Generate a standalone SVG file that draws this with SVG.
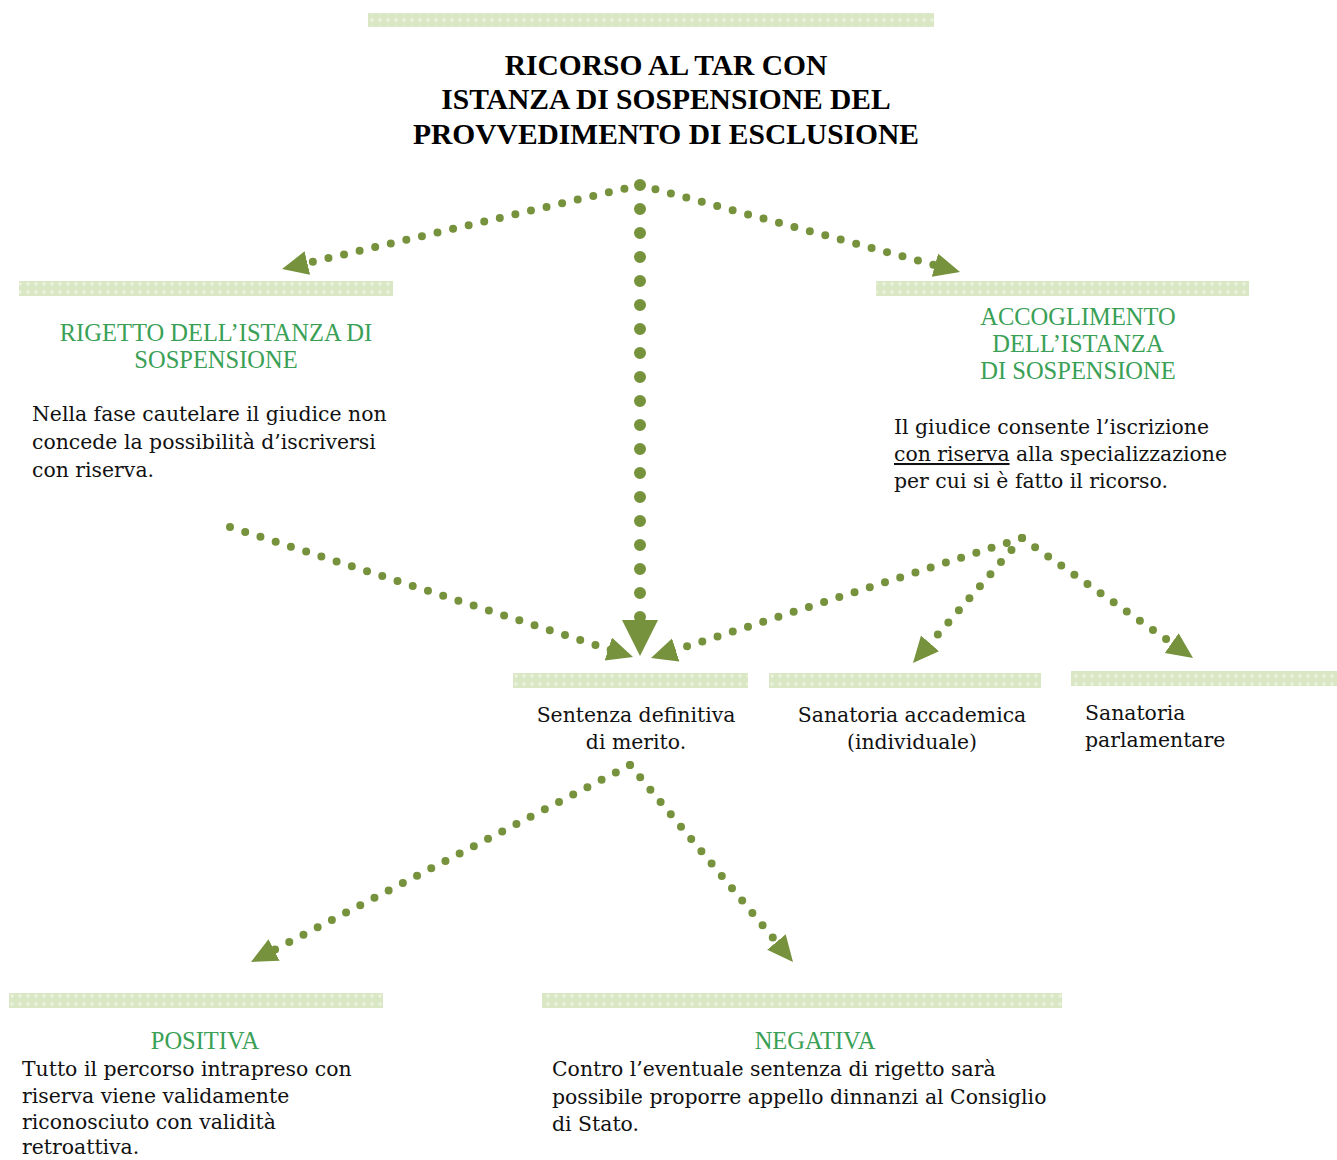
<svg xmlns="http://www.w3.org/2000/svg" width="1337" height="1160" viewBox="0 0 1337 1160">
<style>
.title{font-family:"Liberation Serif",serif;font-weight:bold;font-size:29.5px;fill:#000;text-anchor:middle}
.head{font-family:"Liberation Serif",serif;font-size:24.5px;fill:#3aa055;text-anchor:middle}
.body{font-family:"DejaVu Serif",serif;font-size:20.4px;fill:#111}
.mid{text-anchor:middle}
.bar{fill:url(#hatch)}
.conn{fill:none;stroke:#76923c;stroke-linecap:round;stroke-width:8;stroke-dasharray:0 16}
.big{stroke-width:12;stroke-dasharray:0 24}
</style>
<defs>
<pattern id="hatch" width="8" height="8" patternUnits="userSpaceOnUse">
<rect width="8" height="8" fill="#d9e7c4"/>
<path d="M4 1 L5 4 L4 7 L3 4 Z M1 4 L4 3 L7 4 L4 5 Z" fill="#eef5e4"/>
</pattern>
<marker id="ah" markerUnits="userSpaceOnUse" markerWidth="30" markerHeight="26" refX="10" refY="12" orient="auto">
<path d="M0 0 L26 12 L0 24 Z" fill="#76923c"/>
</marker>
<marker id="ahb" markerUnits="userSpaceOnUse" markerWidth="40" markerHeight="40" refX="14" refY="18" orient="auto">
<path d="M0 0 L36 18 L0 36 Z" fill="#76923c"/>
</marker>
</defs>
<rect width="1337" height="1160" fill="#fff"/>

<g id="title">
<rect class="bar" x="368" y="13" width="566" height="14"/>
<text class="title" x="666" y="75">RICORSO AL TAR CON</text>
<text class="title" x="666" y="109">ISTANZA DI SOSPENSIONE DEL</text>
<text class="title" x="666" y="144">PROVVEDIMENTO DI ESCLUSIONE</text>
</g>

<g id="rigetto">
<rect class="bar" x="19" y="281" width="374" height="15"/>
<text class="head" x="216" y="341">RIGETTO DELL’ISTANZA DI</text>
<text class="head" x="216" y="368">SOSPENSIONE</text>
<text class="body" x="32" y="421">Nella fase cautelare il giudice non</text>
<text class="body" x="32" y="449">concede la possibilità d’iscriversi</text>
<text class="body" x="32" y="477">con riserva.</text>
</g>

<g id="accoglimento">
<rect class="bar" x="876" y="281" width="373" height="15"/>
<text class="head" x="1078" y="325">ACCOGLIMENTO</text>
<text class="head" x="1078" y="352">DELL’ISTANZA</text>
<text class="head" x="1078" y="379">DI SOSPENSIONE</text>
<text class="body" x="894" y="434">Il giudice consente l’iscrizione</text>
<text class="body" x="894" y="461"><tspan text-decoration="underline">con riserva</tspan> alla specializzazione</text>
<text class="body" x="894" y="488">per cui si è fatto il ricorso.</text>
</g>

<g id="sentenza">
<rect class="bar" x="513" y="673" width="235" height="15"/>
<text class="body mid" x="636" y="722">Sentenza definitiva</text>
<text class="body mid" x="636" y="749">di merito.</text>
</g>

<g id="sanatoria-accademica">
<rect class="bar" x="769" y="673" width="272" height="15"/>
<text class="body mid" x="912" y="722">Sanatoria accademica</text>
<text class="body mid" x="912" y="749">(individuale)</text>
</g>

<g id="sanatoria-parlamentare">
<rect class="bar" x="1071" y="671" width="266" height="15"/>
<text class="body" x="1085" y="720">Sanatoria</text>
<text class="body" x="1085" y="747">parlamentare</text>
</g>

<g id="positiva">
<rect class="bar" x="9" y="993" width="374" height="15"/>
<text class="head" x="205" y="1049">POSITIVA</text>
<text class="body" x="22" y="1076">Tutto il percorso intrapreso con</text>
<text class="body" x="22" y="1103">riserva viene validamente</text>
<text class="body" x="22" y="1129">riconosciuto con validità</text>
<text class="body" x="22" y="1154">retroattiva.</text>
</g>

<g id="negativa">
<rect class="bar" x="542" y="993" width="520" height="15"/>
<text class="head" x="815" y="1049">NEGATIVA</text>
<text class="body" x="552" y="1076">Contro l’eventuale sentenza di rigetto sarà</text>
<text class="body" x="552" y="1104">possibile proporre appello dinnanzi al Consiglio</text>
<text class="body" x="552" y="1131">di Stato.</text>
</g>

<g id="connectors">
<path class="conn" d="M640 185 L297.6 265.3" marker-end="url(#ah)"/>
<path class="conn" d="M640 185 L944.6 267.8" marker-end="url(#ah)"/>
<path class="conn big" d="M640 185 L640 634" marker-end="url(#ahb)"/>
<path class="conn" d="M230 527 L617.8 652.1" marker-end="url(#ah)"/>
<path class="conn" d="M1022 538 L666.2 653.1" marker-end="url(#ah)"/>
<path class="conn" d="M1022 538 L923.5 650.9" marker-end="url(#ah)"/>
<path class="conn" d="M1022 538 L1179.9 648.8" marker-end="url(#ah)"/>
<path class="conn" d="M630 765 L265.2 954.6" marker-end="url(#ah)"/>
<path class="conn" d="M630 765 L782.8 949.7" marker-end="url(#ah)"/>
</g>
</svg>
